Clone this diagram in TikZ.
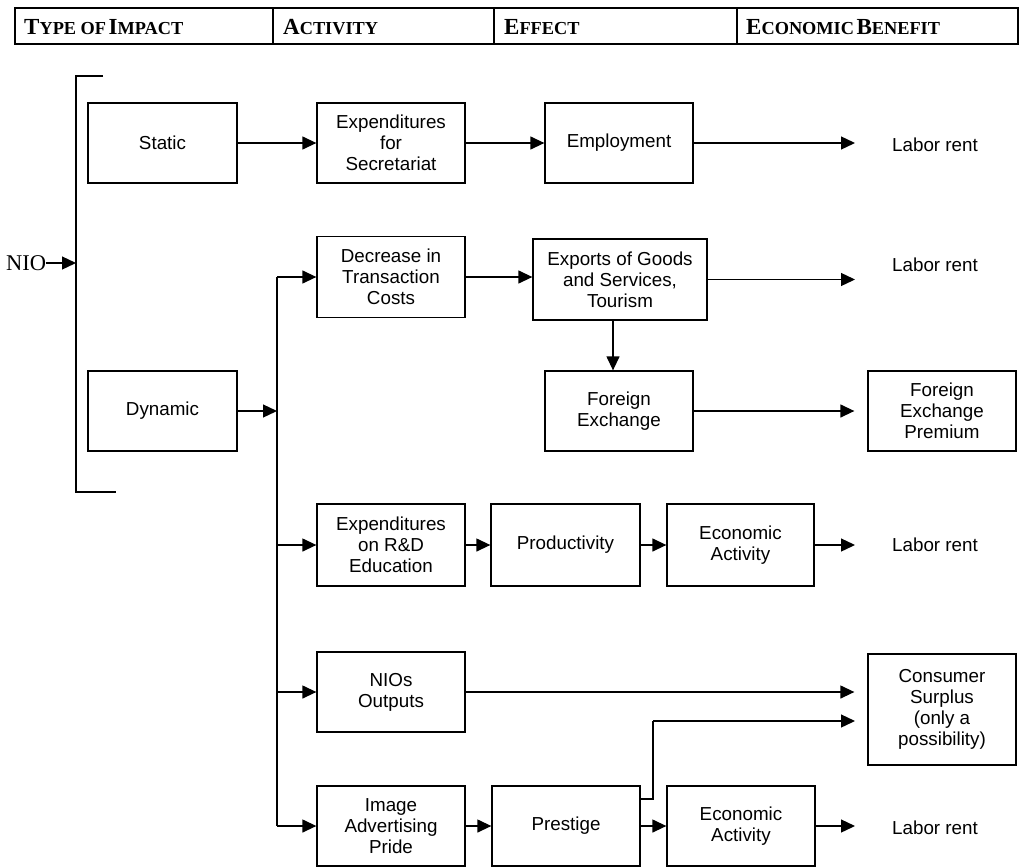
\documentclass[tikz,border=0pt]{standalone}
\usepackage{fontspec}
\setmainfont{Liberation Serif}
\setsansfont{Liberation Sans}
\usetikzlibrary{arrows.meta}
\newcommand\hsc[2]{{\fontsize{23}{23}\selectfont #1}{\fontsize{18.3}{19}\selectfont #2}}
\begin{document}
\begin{tikzpicture}[x=1pt,y=-1pt,
  box/.style={draw,line width=1.3pt,minimum width=148pt,minimum height=80pt,inner sep=2pt,align=center,font=\sffamily\fontsize{18.8}{21}\selectfont},
  lbl/.style={inner sep=0pt,font=\sffamily\fontsize{18.8}{21}\selectfont},
  arr/.style={line width=1.3pt,-{Triangle[length=14pt,width=13pt]}},
  ln/.style={line width=1.3pt},
  hdr/.style={anchor=base west,inner sep=0pt,font=\bfseries}]
\useasboundingbox (0,0) rectangle (1027,867);
% header
\draw[ln] (15,8) rectangle (1018,44);
\draw[ln] (273,8) -- (273,44) (494,8) -- (494,44) (737,8) -- (737,44);
\node[hdr] (h1) at (24,35) {\hsc{T}{YPE OF} \hsc{I}{MPACT}};
\node[hdr] (h2) at (283,35) {\hsc{A}{CTIVITY}};
\node[hdr] (h3) at (504,35) {\hsc{E}{FFECT}};
\node[hdr] (h4) at (746,35) {\hsc{E}{CONOMIC} \hsc{B}{ENEFIT}};
% bracket and NIO
\draw[ln] (103,76) -- (76,76) -- (76,492) -- (116,492);
\node[anchor=west,inner sep=0pt,font=\fontsize{22.5}{22.5}\selectfont] (nio) at (6,263) {NIO};
\coordinate (nioend) at (76,263);
\draw[arr] (nio.east) -- (nioend);
% column 1
\node[box,minimum width=149pt] (static) at (162.5,143) {Static};
\node[box,minimum width=149pt] (dynamic) at (162.5,411) {Dynamic};
% column 2
\node[box] (expsec) at (391,143) {Expenditures\\for\\Secretariat};
\node[box,minimum height=81pt] (decr) at (391,277) {Decrease in\\Transaction\\Costs};
\node[box,minimum height=82pt] (rd) at (391,545) {Expenditures\\on R\&D\\Education};
\node[box] (nios) at (391,692) {NIOs\\Outputs};
\node[box] (img) at (391,826) {Image\\Advertising\\Pride};
% column 3
\node[box] (employ) at (619,143) {Employment};
\node[box,minimum width=174pt,minimum height=81pt] (exports) at (620,279.5) {Exports of Goods\\and Services,\\Tourism};
\node[box] (fx) at (619,411) {Foreign\\Exchange};
\node[box,minimum width=149pt,minimum height=82pt] (prod) at (565.5,545) {Productivity};
\node[box] (prest) at (566,826) {Prestige};
\node[box,minimum width=147pt,minimum height=82pt] (econ1) at (740.5,545) {Economic\\Activity};
\node[box] (econ2) at (741,826) {Economic\\Activity};
% column 4
\node[box] (fxp) at (942,411) {Foreign\\Exchange\\Premium};
\node[box,minimum height=111pt] (cs) at (942,709.5) {Consumer\\Surplus\\(only a\\possibility)};
\node[lbl] (lr1) at (935,145) {Labor rent};
\node[lbl] (lr2) at (935,265) {Labor rent};
\node[lbl] (lr3) at (935,545) {Labor rent};
\node[lbl] (lr4) at (935,828) {Labor rent};
% arrow end column
\coordinate (tipx) at (855,0);
% row 1
\draw[arr] (static) -- (expsec);
\draw[arr] (expsec) -- (employ);
\draw[arr] (employ.east) -- (employ.east -| tipx);
% trunk
\coordinate (ttop) at (277,277);
\coordinate (tdyn) at (277,411);
\coordinate (trd) at (277,545);
\coordinate (tnio) at (277,692);
\coordinate (tbot) at (277,826);
\draw[ln] (ttop) -- (tbot);
\draw[arr] (dynamic.east) -- (tdyn);
\draw[arr] (ttop) -- (decr.west);
\draw[arr] (trd) -- (rd.west);
\draw[arr] (tnio) -- (nios.west);
\draw[arr] (tbot) -- (img.west);
% row 2
\draw[arr] (decr.east) -- (decr.east -| exports.west);
\draw[arr] (exports.east) -- (exports.east -| tipx);
\coordinate (xs) at (613,320);
\draw[arr] (xs) -- (xs |- fx.north);
\draw[arr,shorten >=13pt] (fx.east) -- (fxp.west);
% row 3
\draw[arr] (rd) -- (prod);
\draw[arr] (prod) -- (econ1);
\draw[arr] (econ1.east) -- (econ1.east -| tipx);
% row 4
\draw[arr,shorten >=13pt] (nios.east) -- (nios.east -| cs.west);
% row 5
\draw[arr] (img) -- (prest);
\draw[arr] (prest) -- (econ2);
\draw[arr] (econ2.east) -- (econ2.east -| tipx);
\coordinate (p1) at (653,799);
\coordinate (p2) at (653,721);
\draw[ln] (prest.east |- p1) -- (p1) -- (p2);
\draw[arr] (p2) -- (p2 -| tipx);
\end{tikzpicture}
\end{document}
